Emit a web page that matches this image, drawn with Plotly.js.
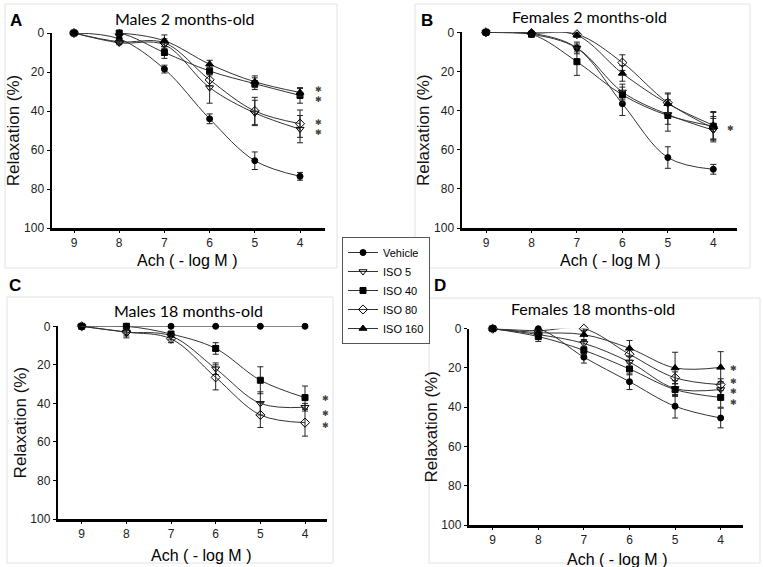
<!DOCTYPE html>
<html>
<head>
<meta charset="utf-8">
<script src="https://cdn.plot.ly/plotly-3.0.1.min.js"></script>
<style>
  html, body { margin: 0; padding: 0; background: #fff; }
  #chart { width: 763px; height: 567px; }
</style>
</head>
<body>
<div id="chart"></div>
<script>
// Ach concentration (-log M)
var dose = [9, 8, 7, 6, 5, 4];
var groups = ['Vehicle', 'ISO 5', 'ISO 40', 'ISO 80', 'ISO 160'];

// A: males 2 months
var vehA = [0, 3, 18.5, 44, 65.5, 73.5];
var iso5A = [0, 5, 6, 28, 41, 49.3];
var iso40A = [0, 0, 10, 19.5, 26, 32];
var iso80A = [0, 4.5, 5, 24, 40, 46.5];
var iso160A = [0, 0, 4, 16, 25, 30.5];
var errVehA = [0, 1, 2, 2.5, 4.5, 2];
var err5A = [0, 1, 2, 8, 6.5, 7];
var err40A = [0, 1, 3, 2, 3, 4];
var err80A = [0, 1, 2, 3, 7, 7];
var err160A = [0, 1, 3, 2, 3, 2];

// B: females 2 months
var vehB = [0, 0.5, 8, 36.5, 64, 70];
var iso5B = [0, 1, 8, 30.5, 42, 50];
var iso40B = [0, 1, 15, 32, 42.5, 48];
var iso80B = [0, 0.5, 1, 15.5, 36, 49];
var iso160B = [0, 0, 1.5, 21, 36.5, 47.5];
var errVehB = [0, 0.5, 2, 6, 5.5, 2.5];
var err5B = [0, 1, 3, 4, 5, 6];
var err40B = [0, 1, 7, 4, 8, 7];
var err80B = [0, 0.5, 1, 4, 5, 6];
var err160B = [0, 0, 1, 4, 5, 7];

// C: males 18 months
var vehC = [0, 0, 0, 0, 0, 0];
var iso5C = [0, 3, 5, 22, 40, 42];
var iso40C = [0, 0, 4, 11.5, 28, 37];
var iso80C = [0, 3, 6.5, 26.5, 46, 50];
var iso160C = [null, null, null, null, null, null];
var errVehC = [0, 0, 0, 0, 0, 0];
var err5C = [0, 3, 2, 3, 6, 2];
var err40C = [0, 0, 1, 3, 7, 6];
var err80C = [0, 2, 2, 6.5, 6.5, 7];
var err160C = [0, 0, 0, 0, 0, 0];

// D: females 18 months
var vehD = [0, 0, 14.5, 27, 39.5, 45.5];
var iso5D = [0, 3, 7.5, 17, 30.5, 31];
var iso40D = [0, 4, 11, 20.5, 31, 35];
var iso80D = [0, 1, 0, 13, 25, 28.5];
var iso160D = [0, 2, 3, 10, 20, 19.7];
var errVehD = [0, 1, 3, 4, 6, 5];
var err5D = [0, 2, 2, 3, 4, 4];
var err40D = [0, 2.5, 2, 3, 3, 5];
var err80D = [0, 1, 1, 3, 3, 3];
var err160D = [0, 1, 3, 4, 8, 8];

// significance stars (stacked groups: centre value, count)
var starsA = [[31.5, 2], [48.3, 2]];
var starsB = [[49, 1]];
var starsC = [[37.7, 1], [45, 1], [51.4, 1]];
var starsD = [[20.2, 1], [32, 3]];

var symbols = ['circle', 'triangle-down-open', 'square', 'diamond-open', 'triangle-up'];
var sizes = [6, 7, 6, 7, 7];

var panels = [
  {ax: '', means: [vehA, iso5A, iso40A, iso80A, iso160A], errs: [errVehA, err5A, err40A, err80A, err160A], stars: starsA, sx: 3.58},
  {ax: '2', means: [vehB, iso5B, iso40B, iso80B, iso160B], errs: [errVehB, err5B, err40B, err80B, err160B], stars: starsB, sx: 3.63},
  {ax: '3', means: [vehC, iso5C, iso40C, iso80C, iso160C], errs: [errVehC, err5C, err40C, err80C, err160C], stars: starsC, sx: 3.53},
  {ax: '4', means: [vehD, iso5D, iso40D, iso80D, iso160D], errs: [errVehD, err5D, err40D, err80D, err160D], stars: starsD, sx: 3.72}
];

var data = [];
panels.forEach(function (p, pi) {
  groups.forEach(function (g, gi) {
    data.push({
      type: 'scatter',
      mode: 'lines+markers',
      name: g,
      x: dose,
      y: p.means[gi],
      xaxis: 'x' + p.ax,
      yaxis: 'y' + p.ax,
      showlegend: pi === 0,
      cliponaxis: false,
      line: {color: '#333', width: 1, shape: 'spline', smoothing: 1},
      marker: {symbol: symbols[gi], size: sizes[gi], color: '#000', line: {color: '#000', width: 1}},
      error_y: {type: 'data', array: p.errs[gi], visible: true, color: '#222', thickness: 1, width: 3}
    });
  });
});

var arial = 'Liberation Sans, Arial, sans-serif';
var tickFont = {family: arial, size: 12, color: '#222'};
var titleFont = {family: arial, size: 17, color: '#111'};

function xAxis(dom, rng, anchor) {
  return {
    domain: dom, range: rng, anchor: anchor,
    tickvals: dose, ticks: 'outside', ticklen: 2, tickwidth: 1, tickcolor: '#000',
    showline: true, linewidth: 2.5, linecolor: '#000', showgrid: false, zeroline: false,
    tickfont: tickFont
  };
}
function yAxis(dom, anchor) {
  return {
    domain: dom, range: [100, 0], anchor: anchor,
    tickvals: [0, 20, 40, 60, 80, 100], ticks: 'outside', ticklen: 3, tickwidth: 1, tickcolor: '#000',
    showline: true, linewidth: 2.5, linecolor: '#000', showgrid: false, zeroline: false,
    tickfont: tickFont,
    title: {text: 'Relaxation (%)', font: titleFont, standoff: 0}
  };
}

function frame(x0, y0, x1, y1) {
  return {type: 'rect', xref: 'paper', yref: 'paper',
    x0: x0 / 763, x1: x1 / 763, y0: 1 - y0 / 567, y1: 1 - y1 / 567,
    line: {color: '#e2e2e2', width: 1}, layer: 'below'};
}

function label(txt, px, py, bold, size, family) {
  return {text: bold ? '<b>' + txt + '</b>' : txt, xref: 'paper', yref: 'paper',
    x: px / 763, y: 1 - py / 567, showarrow: false, xanchor: 'center', yanchor: 'middle',
    font: {family: family || arial, size: size, color: '#000'}};
}

var titleFam = 'Lato, Open Sans, sans-serif';
var xTitle = 'Ach ( - log M )';
var annotations = [
  label('A', 16, 20, true, 17), label('B', 427, 20, true, 17),
  label('C', 15, 285, true, 17), label('D', 440, 285, true, 17),
  label('Males 2 months-old', 185, 18, false, 16, titleFam),
  label('Females 2 months-old', 589, 17, false, 16, titleFam),
  label('Males 18 months-old', 188, 310, false, 16, titleFam),
  label('Females 18 months-old', 593, 308, false, 16, titleFam),
  label(xTitle, 187, 261, false, 16), label(xTitle, 610, 261, false, 16),
  label(xTitle, 201, 555, false, 16), label(xTitle, 617, 559, false, 16)
];

panels.forEach(function (p) {
  p.stars.forEach(function (s) {
    var txt = [];
    for (var i = 0; i < s[1]; i++) txt.push('\u2731');
    annotations.push({text: txt.join('<br>'), xref: 'x' + p.ax, yref: 'y' + p.ax, x: p.sx, y: s[0],
      showarrow: false, xanchor: 'center', yanchor: 'middle',
      font: {family: 'DejaVu Sans, sans-serif', size: 8, color: '#444'}});
  });
});

var layout = {
  width: 763, height: 567,
  margin: {l: 0, r: 0, t: 0, b: 0},
  paper_bgcolor: '#fff', plot_bgcolor: 'rgba(0,0,0,0)',
  showlegend: true,
  legend: {
    x: 342 / 763, y: 1 - 237 / 567, xanchor: 'left', yanchor: 'top',
    bordercolor: '#555', borderwidth: 1, bgcolor: '#fff',
    font: {family: arial, size: 11, color: '#000'},
    tracegroupgap: 0, itemwidth: 30
  },
  xaxis: xAxis([52 / 763, 325 / 763], [9.487, 3.447], 'y'),
  yaxis: yAxis([1 - 228 / 567, 1 - 33 / 567], 'x'),
  xaxis2: xAxis([462 / 763, 737 / 763], [9.528, 3.479], 'y2'),
  yaxis2: yAxis([1 - 228 / 567, 1 - 32.3 / 567], 'x2'),
  xaxis3: xAxis([58.3 / 763, 326.7 / 763], [9.524, 3.514], 'y3'),
  yaxis3: yAxis([1 - 519 / 567, 1 - 326.3 / 567], 'x3'),
  xaxis4: xAxis([469.3 / 763, 743.3 / 763], [9.513, 3.504], 'y4'),
  yaxis4: yAxis([1 - 525 / 567, 1 - 328.7 / 567], 'x4'),
  shapes: [frame(5, 4, 337, 268), frame(415, 4, 750, 268), frame(7, 297, 333, 563), frame(429, 298, 760, 563)],
  annotations: annotations
};

Plotly.newPlot('chart', data, layout, {displayModeBar: false, staticPlot: true});
</script>
</body>
</html>
